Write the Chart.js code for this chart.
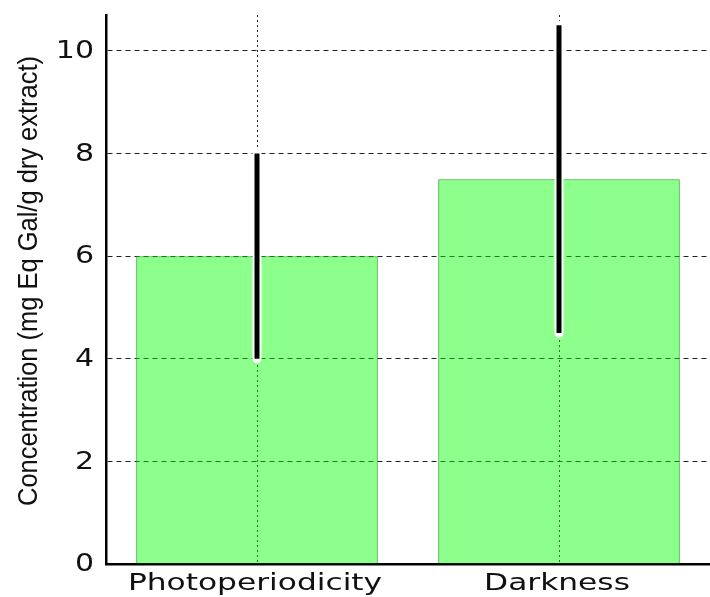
<!DOCTYPE html>
<html>
<head>
<meta charset="utf-8">
<script src="https://cdn.jsdelivr.net/npm/chart.js@4"></script>
<style>
  body { margin: 0; background: #fff; }
  #wrap { width: 710px; height: 597px; }
</style>
</head>
<body>
<div id="wrap"><canvas id="myChart"></canvas></div>
<script>
// data
const categories = ['Photoperiodicity', 'Darkness'];
const concentration = [6.0, 7.5];
const errLow = [4.0, 4.5];
const errHigh = [8.0, 10.5];
const yTicks = [0, 2, 4, 6, 8, 10];
const yTitle = 'Concentration (mg Eq Gal/g dry extract)';

// error bars: black bar with a thin white outline
const errorBars = {
  id: 'errorBars',
  afterDatasetsDraw(chart) {
    const ctx = chart.ctx;
    const x = chart.scales.x, y = chart.scales.y;
    ctx.save();
    categories.forEach((c, i) => {
      const px = x.getPixelForValue(i);
      const top = y.getPixelForValue(errHigh[i]);
      const bot = y.getPixelForValue(errLow[i]);
      ctx.lineCap = 'round';
      ctx.strokeStyle = '#fff';
      ctx.lineWidth = 9;
      ctx.beginPath(); ctx.moveTo(px, top); ctx.lineTo(px, bot); ctx.stroke();
      ctx.lineCap = 'butt';
      ctx.strokeStyle = '#000';
      ctx.lineWidth = 5;
      ctx.beginPath(); ctx.moveTo(px, top); ctx.lineTo(px, bot); ctx.stroke();
    });
    ctx.restore();
  }
};

// the original labels are stretched sideways, so they are drawn here with a scale
function stretchedText(ctx, text, x, y, sx, align) {
  ctx.save();
  ctx.translate(x, y);
  ctx.scale(sx, 1);
  ctx.textAlign = align;
  ctx.fillText(text, 0, 0);
  ctx.restore();
}

const axisLabels = {
  id: 'axisLabels',
  afterDraw(chart) {
    const ctx = chart.ctx;
    const x = chart.scales.x, y = chart.scales.y;
    ctx.save();
    ctx.fillStyle = '#111';

    ctx.font = '24px "DejaVu Sans"';
    ctx.textBaseline = 'middle';
    yTicks.forEach(v => stretchedText(ctx, String(v), 94, y.getPixelForValue(v) + 1, 1.25, 'right'));

    ctx.font = '23px "DejaVu Sans"';
    ctx.textBaseline = 'alphabetic';
    categories.forEach((c, i) => stretchedText(ctx, c, x.getPixelForValue(i) - 2, 590, 1.36, 'center'));

    // y title, narrow face
    ctx.font = '28px "Liberation Sans"';
    const w = ctx.measureText(yTitle).width;
    ctx.translate(37, 281);
    ctx.rotate(-Math.PI / 2);
    ctx.scale(450 / w, 1);
    ctx.textAlign = 'center';
    ctx.fillText(yTitle, 0, 0);
    ctx.restore();
  }
};

const ctx = document.getElementById('myChart').getContext('2d');
const chart = new Chart(ctx, {
  type: 'bar',
  data: {
    labels: categories,
    datasets: [{
      data: concentration,
      backgroundColor: 'rgba(0, 255, 0, 0.45)',
      borderColor: '#22b022',
      borderWidth: 1,
      categoryPercentage: 1,
      barPercentage: 0.8
    }]
  },
  options: {
    responsive: true,
    maintainAspectRatio: false,
    animation: false,
    layout: { padding: { left: 106, top: 15, right: -8, bottom: 33 } },
    plugins: { legend: { display: false }, tooltip: { enabled: false } },
    scales: {
      x: {
        grid: { offset: false, drawTicks: false, color: '#222' },
        border: { display: true, color: '#000', width: 2.5, dash: [2, 3] },
        ticks: { display: false }
      },
      y: {
        min: 0,
        max: 10.7,
        afterBuildTicks: (scale) => { scale.ticks = yTicks.map(v => ({ value: v })); },
        grid: { drawTicks: false, color: '#222' },
        border: { display: true, color: '#000', width: 2.5, dash: [5, 4] },
        ticks: { display: false }
      }
    }
  },
  plugins: [errorBars, axisLabels]
});
</script>
</body>
</html>
